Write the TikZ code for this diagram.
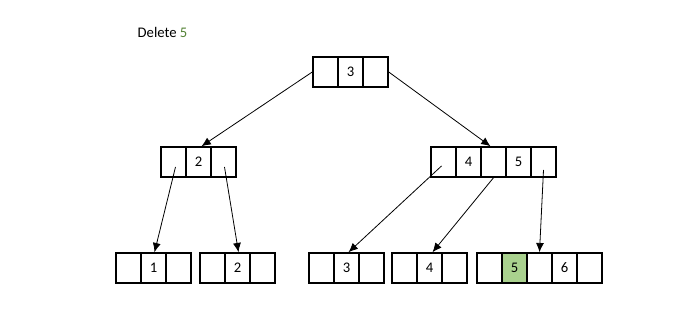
\documentclass[tikz,border=0pt]{standalone}
\usepackage{fontspec}
\setmainfont{Carlito}
\usetikzlibrary{arrows.meta,calc,positioning}
\definecolor{KeyGreen}{HTML}{A9D18E}
\definecolor{TextGreen}{HTML}{548235}
\newcommand{\btnode}[4]{%
  \foreach \lbl [count=\k] in {#4} {
    \node[cell, cell #1\k/.try] (#1\k) at ({#2+(\k-0.5)*25},#3) {\lbl};
  }%
}

\begin{document}
\begin{tikzpicture}[
      x=0.75pt, y=-0.75pt,
      font=\fontsize{11}{13}\selectfont,
      cell/.style={
        draw=black,
        line width=1.1pt,
        fill=white,
        minimum width=18.75pt,
        minimum height=22.5pt,
        inner sep=0pt
      },
      cell e2/.style={fill=KeyGreen},
      link/.style={-{Latex[length=7pt,width=6pt]}, line width=0.6pt, draw=black}
    ]
    \useasboundingbox (0,0) rectangle (699,331);

    \node[anchor=west] (title) at (133,32) {Delete \textcolor{TextGreen}{5}};

    \btnode{r}{313}{72}{{},3,{}}
    \btnode{l}{161}{162}{{},2,{}}
    \btnode{m}{431}{162}{{},4,{},5,{}}
    \btnode{a}{116}{268}{{},1,{}}
    \btnode{b}{200}{268}{{},2,{}}
    \btnode{c}{309}{268}{{},3,{}}
    \btnode{d}{392}{268}{{},4,{}}
    \btnode{e}{477}{268}{{},5,{},6,{}}

    \draw[link] (r1.west) -- ($(l2.north)+(3,0)$);
    \draw[link] (r3.east) -- ($(m3.north)+(-3,0)$);
    \draw[link] ($(l1.center)+(2,5)$) -- ($(a2.north)+(1,0)$);
    \draw[link] ($(l3.center)+(1,5)$) -- ($(b2.north)+(1,0)$);
    \draw[link] ($(m1.center)+(-2,4)$) -- ($(c2.north)+(2,0)$);
    \draw[link] (m3.south) -- ($(d2.north)+(3,0)$);
    \draw[link] ($(m5.center)+(0,8)$) -- ($(e3.north)+(0,0)$);
  \end{tikzpicture}
\end{document}
